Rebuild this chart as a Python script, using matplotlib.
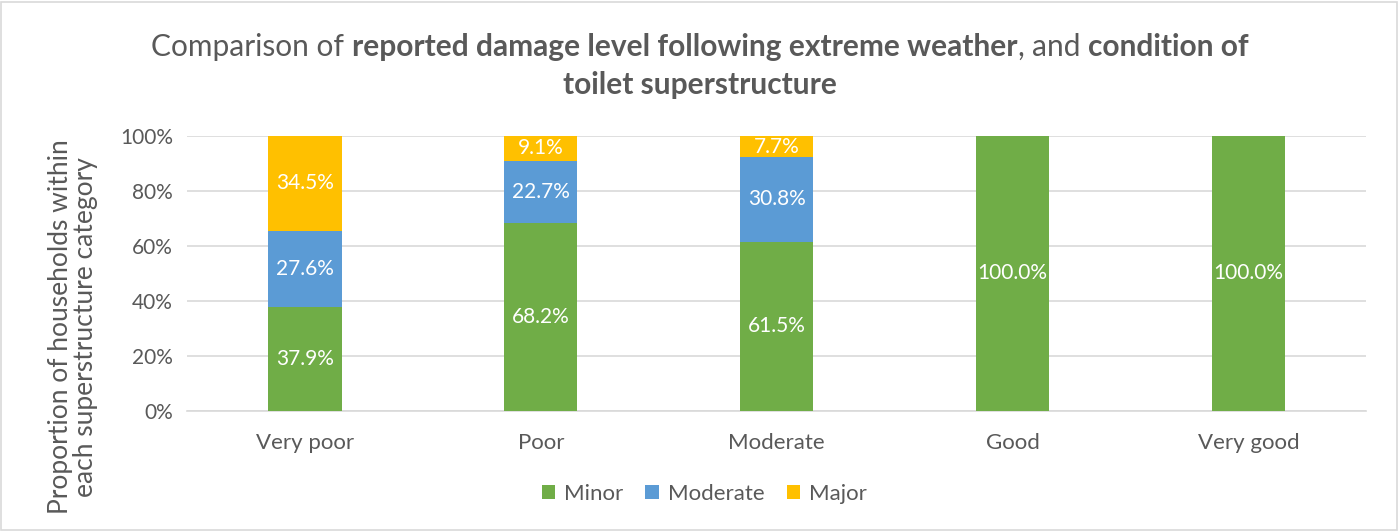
import matplotlib
matplotlib.use("Agg")
import matplotlib.pyplot as plt
import numpy as np
from matplotlib.patches import Rectangle

plt.rcParams["font.family"] = ["Lato", "DejaVu Sans"]

categories = ["Very poor", "Poor", "Moderate", "Good", "Very good"]
minor = [37.9, 68.2, 61.5, 100.0, 100.0]
moderate = [27.6, 22.7, 30.8, 0.0, 0.0]
major = [34.5, 9.1, 7.7, 0.0, 0.0]
series_names = ["Minor", "Moderate", "Major"]

GREEN, BLUE, YELLOW = "#70AD47", "#5B9BD5", "#FFC000"
TXT, GRID = "#595959", "#D9D9D9"

fig = plt.figure(figsize=(14, 5.31), dpi=100)
ax = fig.add_axes([0.1336, 0.226, 0.8424, 0.518])

x = np.arange(len(categories))
bottom = np.zeros(len(categories))
for name, vals, col in zip(series_names, [minor, moderate, major], [GREEN, BLUE, YELLOW]):
    vals = np.array(vals)
    bars = ax.bar(x, vals, width=0.31, bottom=bottom, color=col, label=name, zorder=3)
    for b, v, b0 in zip(bars, vals, bottom):
        if v > 0:
            ax.text(b.get_x() + b.get_width() / 2, b0 + v / 2, f"{v:.1f}%",
                    ha="center", va="center", color="white", fontsize=15, zorder=4)
    bottom += vals

ax.set_xlim(-0.5, len(categories) - 0.5)
ax.set_ylim(0, 100)
ax.set_yticks(range(0, 101, 20))
ax.set_yticklabels([f"{v}%" for v in range(0, 101, 20)])
ax.set_xticks(x)
ax.set_xticklabels(categories)
ax.tick_params(axis="y", length=0, labelsize=15, colors=TXT, pad=10)
ax.tick_params(axis="x", length=0, labelsize=16, colors=TXT, pad=16)
ax.grid(axis="y", color=GRID, linewidth=1.2, zorder=0)
for s in ["top", "right", "left"]:
    ax.spines[s].set_visible(False)
ax.spines["bottom"].set_color(GRID)
ax.spines["bottom"].set_linewidth(1.2)

fig.text(0.052, 1 - 327 / 531, "Proportion of households within\neach superstructure category",
         rotation=90, ha="center", va="center", fontsize=19, color=TXT, linespacing=1.0)

leg = fig.legend(loc="center", bbox_to_anchor=(0.503, 0.07), ncol=3, frameon=False,
                 fontsize=16, handlelength=0.6, handleheight=0.6, handletextpad=0.4,
                 columnspacing=1.0)
for t in leg.get_texts():
    t.set_color(TXT)

# title with mixed weights
renderer = fig.canvas.get_renderer()
TSIZE = 21.5


def rich_line(y, parts):
    probe = fig.text(0, 0, "a a", fontsize=TSIZE)
    probe2 = fig.text(0, 0, "aa", fontsize=TSIZE)
    space = probe.get_window_extent(renderer).width - probe2.get_window_extent(renderer).width
    probe.remove()
    probe2.remove()
    items = []
    for s, w, gap in parts:
        t = fig.text(0, y, s, fontsize=TSIZE, fontweight=w, color=TXT, va="center")
        items.append((t, t.get_window_extent(renderer).width, gap))
    total = sum(wd + (space if gap else 0) for _, wd, gap in items)
    cur = (fig.bbox.width - total) / 2
    for t, wd, gap in items:
        t.set_x(cur / fig.bbox.width)
        cur += wd + (space if gap else 0)


rich_line(1 - 47 / 531, [("Comparison of", "normal", True),
                         ("reported damage level following extreme weather", "bold", False),
                         (",", "normal", True),
                         ("and", "normal", True),
                         ("condition of", "bold", False)])
rich_line(1 - 85 / 531, [("toilet superstructure", "bold", False)])

fig.patches.append(Rectangle((0.001, 0.002), 0.997, 0.995, transform=fig.transFigure,
                             fill=False, edgecolor=GRID, linewidth=1.2))

fig.savefig("out.png", dpi=100)
